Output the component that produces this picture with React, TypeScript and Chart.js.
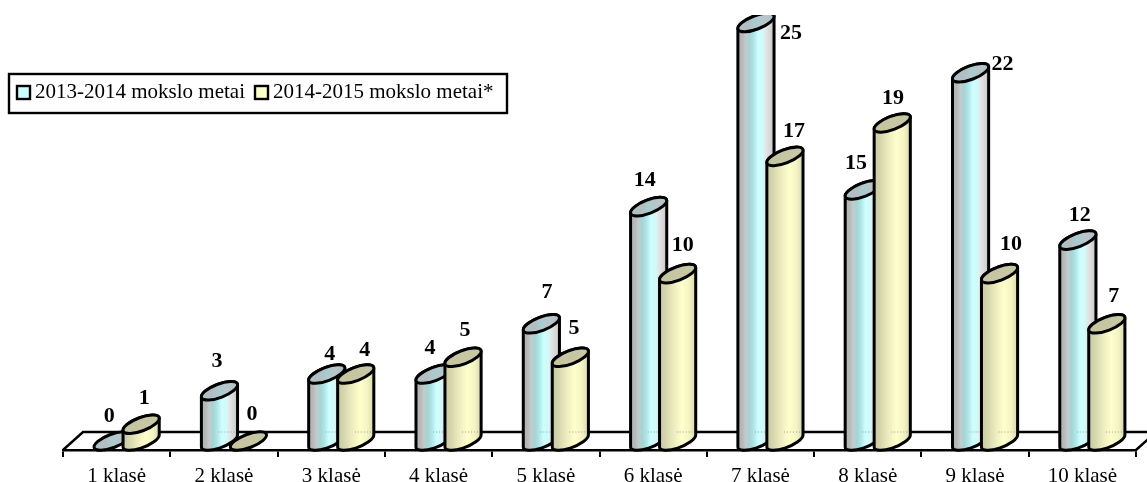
import React, { useEffect, useRef } from "react";
import { Chart, BarController, BarElement, registerables } from "chart.js";

const categories = ["1 klasė", "2 klasė", "3 klasė", "4 klasė", "5 klasė", "6 klasė", "7 klasė", "8 klasė", "9 klasė", "10 klasė"];
const seriesNames = ["2013-2014 mokslo metai", "2014-2015 mokslo metai*"];
const values2013 = [0, 3, 4, 4, 7, 14, 25, 15, 22, 12];
const values2014 = [1, 0, 4, 5, 5, 10, 17, 19, 10, 7];

// Hand placement of each value label, relative to the top of its bar.
const labelDx2013 = [7, 7.5, 13, 6, 15.6, 6, 45, 2.7, 42, 12];
const labelDy2013 = [-34, -38.4, -28.6, -34.6, -40.5, -35.5, 1.5, -35.6, -17.6, -34];
const labelDx2014 = [13, 13.5, 19, 12, 13.6, 15, 19, 10.7, 21.4, 17];
const labelDy2014 = [-34.6, -35.5, -32.6, -35.8, -37.8, -36.9, -33.9, -33.8, -37.9, -36.5];

const SERIF = "'Liberation Serif', 'Times New Roman', serif";
const DEPTH_X = 20;
const DEPTH_Y = 18;
const CYL_SHIFT = 10;
const CYL_HALF_W = 18;
const ELL_A = 19.2;
const ELL_B = 6.7;
const ELL_ROT = (-21 * Math.PI) / 180;
const ELL_DY = -9;
const CLIP_TOP = 15;

const stripes: Record<string, [number, string][]> = {
  blue: [
    [0, "#aab4b8"], [0.12, "#b8b8b8"], [0.22, "#c2cccc"], [0.32, "#a4d4d4"], [0.44, "#b0e6e6"],
    [0.56, "#ccffff"], [0.7, "#d4f8f8"], [0.8, "#e2e2e2"], [0.92, "#d4d4d4"], [1, "#bcc4c4"],
  ],
  yellow: [
    [0, "#c8c8a4"], [0.15, "#d4d4ac"], [0.35, "#e8e8bc"], [0.62, "#ffffcc"], [0.82, "#f4f4c4"], [1, "#d8d8b0"],
  ],
};
const topFill: Record<string, [number, string][]> = {
  blue: [
    [0, "#a8c4c8"], [0.3, "#b4bcc0"], [0.5, "#a8ccd0"], [0.75, "#bcc4c8"], [1, "#a8c4c8"],
  ],
  yellow: [[0, "#c4c4a0"], [1, "#c8c8a6"]],
};

function gradient(ctx: CanvasRenderingContext2D, x0: number, x1: number, stops: [number, string][]) {
  const g = ctx.createLinearGradient(x0, 0, x1, 0);
  stops.forEach(([o, c]) => g.addColorStop(o, c));
  return g;
}

class CylinderBar extends BarElement {
  static id = "cylinderBar";
  draw(ctx: CanvasRenderingContext2D) {
    const { x, y, base } = (this as any).getProps(["x", "y", "base"], true);
    const key = (this as any).options.backgroundColor as string;
    const cx = x + CYL_SHIFT;
    const yTop = y + ELL_DY;
    const yBot = base + ELL_DY;
    const t0 = Math.atan2(-ELL_B * Math.sin(ELL_ROT), ELL_A * Math.cos(ELL_ROT));
    ctx.save();
    ctx.beginPath();
    ctx.rect(0, CLIP_TOP, ctx.canvas.width, ctx.canvas.height);
    ctx.clip();
    ctx.lineWidth = 3;
    ctx.lineJoin = "round";
    ctx.strokeStyle = "#000";
    if (yBot - yTop > 0.5) {
      ctx.beginPath();
      ctx.ellipse(cx, yTop, ELL_A, ELL_B, ELL_ROT, t0 + Math.PI, t0 + 2 * Math.PI);
      ctx.ellipse(cx, yBot, ELL_A, ELL_B, ELL_ROT, t0, t0 + Math.PI);
      ctx.closePath();
      ctx.fillStyle = gradient(ctx, cx - CYL_HALF_W, cx + CYL_HALF_W, stripes[key]);
      ctx.fill();
      ctx.stroke();
      if (y < base - DEPTH_Y - 4) {
        // The back edge of the floor shows faintly through the cylinder.
        ctx.save();
        ctx.lineWidth = 1;
        ctx.strokeStyle = "#9a9a9a";
        ctx.setLineDash([1, 2]);
        ctx.beginPath();
        ctx.moveTo(cx - 1, base - DEPTH_Y);
        ctx.lineTo(cx + 15, base - DEPTH_Y);
        ctx.stroke();
        ctx.restore();
      }
    }
    ctx.beginPath();
    ctx.ellipse(cx, yTop, ELL_A, ELL_B, ELL_ROT, 0, 2 * Math.PI);
    ctx.fillStyle = gradient(ctx, cx - CYL_HALF_W, cx + CYL_HALF_W, topFill[key]);
    ctx.fill();
    ctx.stroke();
    ctx.restore();
  }
}

class CylinderController extends BarController {
  static id = "cylinder";
  static defaults = { ...(BarController as any).defaults, dataElementType: "cylinderBar" };
  // Painted by the plugin below, so that the right-hand bar of a pair lies over the left one.
  draw() {}
}

Chart.register(...registerables, CylinderBar as any, CylinderController as any);

const floorPlugin = {
  id: "floor",
  beforeDatasetsDraw(chart: any) {
    const { ctx, chartArea: a } = chart;
    ctx.save();
    ctx.strokeStyle = "#000";
    ctx.lineWidth = 2.4;
    ctx.beginPath();
    ctx.moveTo(a.left, a.bottom);
    ctx.lineTo(a.left + DEPTH_X, a.bottom - DEPTH_Y);
    ctx.lineTo(a.right + DEPTH_X, a.bottom - DEPTH_Y);
    ctx.lineTo(a.right, a.bottom);
    ctx.stroke();
    ctx.restore();
  },
};

const marksPlugin = {
  id: "marks",
  afterDatasetsDraw(chart: any) {
    const { ctx } = chart;
    const dx = [labelDx2013, labelDx2014];
    const dy = [labelDy2013, labelDy2014];
    chart.data.datasets.forEach((_: any, i: number) => {
      chart.getDatasetMeta(i).data.forEach((el: any) => el.draw(ctx));
    });
    ctx.save();
    ctx.fillStyle = "#000";
    ctx.font = `bold 22px ${SERIF}`;
    ctx.textAlign = "center";
    ctx.textBaseline = "middle";
    chart.data.datasets.forEach((ds: any, i: number) => {
      chart.getDatasetMeta(i).data.forEach((el: any, k: number) => {
        ctx.fillText(String(ds.data[k]), el.x + dx[i][k], el.y + dy[i][k]);
      });
    });
    ctx.restore();
  },
};

const legendPlugin = {
  id: "legendBox",
  afterDraw(chart: any) {
    const { ctx } = chart;
    ctx.save();
    ctx.fillStyle = "#fff";
    ctx.strokeStyle = "#000";
    ctx.lineWidth = 2.4;
    ctx.fillRect(9, 74, 498, 39);
    ctx.strokeRect(9, 74, 498, 39);
    ctx.font = `21px ${SERIF}`;
    ctx.textBaseline = "middle";
    const swatchX = [17, 255];
    const swatchFill = ["#ccffff", "#ffffcc"];
    chart.data.datasets.forEach((ds: any, i: number) => {
      ctx.fillStyle = swatchFill[i];
      ctx.fillRect(swatchX[i], 86, 13, 13);
      ctx.lineWidth = 2.4;
      ctx.strokeRect(swatchX[i], 86, 13, 13);
      ctx.fillStyle = "#000";
      ctx.fillText(ds.label, swatchX[i] + 18, 92);
    });
    ctx.restore();
  },
};

export default function App() {
  const ref = useRef<HTMLCanvasElement>(null);
  useEffect(() => {
    const chart = new Chart(ref.current as HTMLCanvasElement, {
      type: "cylinder" as any,
      data: {
        labels: categories,
        datasets: [
          { label: seriesNames[0], data: values2013, backgroundColor: "blue" },
          { label: seriesNames[1], data: values2014, backgroundColor: "yellow" },
        ],
      },
      options: {
        responsive: false,
        animation: false,
        events: [],
        layout: { padding: { left: 63, right: 11, top: 31.5, bottom: 0 } },
        datasets: { cylinder: { categoryPercentage: 0.54, barPercentage: 1 } },
        plugins: { legend: { display: false }, tooltip: { enabled: false }, title: { display: false } },
        scales: {
          x: {
            type: "category",
            offset: true,
            border: { display: true, color: "#000", width: 2.4 },
            grid: { offset: true, drawOnChartArea: false, drawTicks: true, color: "#000", lineWidth: 2, tickLength: 7 },
            ticks: { color: "#000", maxRotation: 0, font: { family: SERIF, size: 21 }, padding: 7 },
            afterFit(scale: any) { scale.height = 32; },
          },
          y: { type: "linear", display: false, min: 0, max: 25 },
        },
      } as any,
      plugins: [floorPlugin, marksPlugin, legendPlugin] as any,
    });
    return () => chart.destroy();
  }, []);
  return (
    <div style={{ position: "fixed", left: 0, top: 0, width: 1147, height: 482, background: "#fff" }}>
      <canvas ref={ref} width={1147} height={482} style={{ display: "block" }} />
    </div>
  );
}
